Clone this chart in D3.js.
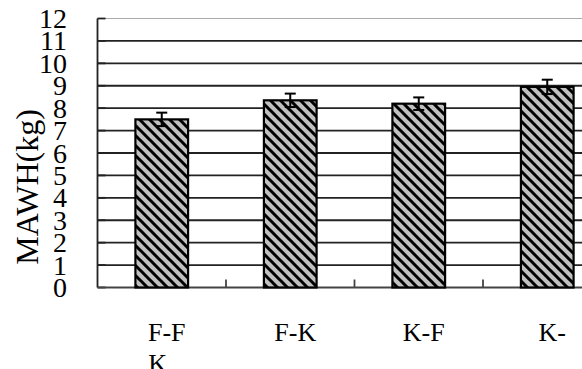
<!DOCTYPE html>
<html>
<head>
<meta charset="utf-8">
<script src="https://cdn.jsdelivr.net/npm/d3@7"></script>
<style>
  body { margin: 0; background: #fff; }
  text { font-family: "Liberation Serif", "Times New Roman", serif; fill: #000; }
</style>
</head>
<body>
<div class="chart"></div>
<script>
var categories = ['F-FK', 'F-K', 'K-F', 'K-'];
var labelLines = [['F-F', 'K'], ['F-K'], ['K-F'], ['K-']];
var means = [7.5, 8.35, 8.2, 8.95];
var errors = [0.3, 0.3, 0.28, 0.32];
var yTicks = [0, 1, 2, 3, 4, 5, 6, 7, 8, 9, 10, 11, 12];

var w = 582,
    h = 369;

var svg = d3.select('.chart').append('svg').attr('width', w).attr('height', h);

var pLeft = 97.5, pTop = 18.5, pBottom = 287.5, pRight = 611.5;

var x = d3.scaleBand().domain(categories).range([pLeft, pRight])
          .paddingInner(0.59).paddingOuter(0.295);
var step = x.step();
var y = d3.scaleLinear().domain([0, 12]).range([pBottom, pTop]);

// hatch pattern for the bars
var pat = svg.append('defs').append('pattern')
             .attr('id', 'hatch')
             .attr('patternUnits', 'userSpaceOnUse')
             .attr('width', 10).attr('height', 10);
pat.append('rect').attr('width', 10).attr('height', 10).attr('fill', '#c0c0c0');
pat.append('path')
   .attr('d', 'M-5,5 L5,15 M0,0 L10,10 M5,-5 L15,5')
   .attr('stroke', '#000').attr('stroke-width', 3);

// gridlines
svg.selectAll('.grid')
   .data(yTicks.filter(function (d) { return d > 0; }))
   .enter().append('line')
   .attr('x1', pLeft).attr('x2', w)
   .attr('y1', function (d) { return y(d); })
   .attr('y2', function (d) { return y(d); })
   .attr('stroke', function (d) { return d == 12 ? '#aaa' : '#222'; })
   .attr('stroke-width', function (d) { return d == 12 ? 1.2 : 1.8; });

// left tick marks
svg.selectAll('.ytick')
   .data(yTicks)
   .enter().append('line')
   .attr('x1', pLeft).attr('x2', pLeft + 8)
   .attr('y1', function (d) { return y(d); })
   .attr('y2', function (d) { return y(d); })
   .attr('stroke', '#222').attr('stroke-width', 1.8);

// axes lines
svg.append('line').attr('x1', pLeft).attr('x2', pLeft).attr('y1', pTop).attr('y2', pBottom)
   .attr('stroke', '#222').attr('stroke-width', 1.8);
svg.append('line').attr('x1', pLeft).attr('x2', w).attr('y1', pBottom).attr('y2', pBottom)
   .attr('stroke', '#444').attr('stroke-width', 1.8);

// category boundary ticks
svg.selectAll('.xtick')
   .data(categories.slice(1))
   .enter().append('line')
   .attr('x1', function (d) { return x(d) - step * 0.295; })
   .attr('x2', function (d) { return x(d) - step * 0.295; })
   .attr('y1', pBottom).attr('y2', pBottom - 8)
   .attr('stroke', '#444').attr('stroke-width', 1.8);

// bars
svg.selectAll('.bar')
   .data(means)
   .enter().append('rect')
   .attr('x', function (d, i) { return x(categories[i]); })
   .attr('y', function (d) { return y(d); })
   .attr('width', x.bandwidth())
   .attr('height', function (d) { return pBottom - y(d); })
   .attr('fill', 'url(#hatch)')
   .attr('stroke', '#000').attr('stroke-width', 2.2);

// error bars
var eb = svg.selectAll('.err')
            .data(means)
            .enter().append('g');
eb.append('line')
  .attr('x1', function (d, i) { return x(categories[i]) + x.bandwidth() / 2; })
  .attr('x2', function (d, i) { return x(categories[i]) + x.bandwidth() / 2; })
  .attr('y1', function (d, i) { return y(d - errors[i]); })
  .attr('y2', function (d, i) { return y(d + errors[i]); });
eb.append('line')
  .attr('x1', function (d, i) { return x(categories[i]) + x.bandwidth() / 2 - 5.5; })
  .attr('x2', function (d, i) { return x(categories[i]) + x.bandwidth() / 2 + 5.5; })
  .attr('y1', function (d, i) { return y(d + errors[i]); })
  .attr('y2', function (d, i) { return y(d + errors[i]); });
eb.append('line')
  .attr('x1', function (d, i) { return x(categories[i]) + x.bandwidth() / 2 - 5.5; })
  .attr('x2', function (d, i) { return x(categories[i]) + x.bandwidth() / 2 + 5.5; })
  .attr('y1', function (d, i) { return y(d - errors[i]); })
  .attr('y2', function (d, i) { return y(d - errors[i]); });
eb.selectAll('line').attr('stroke', '#000').attr('stroke-width', 2);

// y tick labels
svg.selectAll('.ylab')
   .data(yTicks)
   .enter().append('text')
   .attr('x', 67)
   .attr('y', function (d) { return y(d); })
   .attr('dy', '0.34em')
   .attr('text-anchor', 'end')
   .style('font-size', '28px')
   .text(function (d) { return d; });

// x labels
var xl = svg.selectAll('.xlab')
            .data(labelLines)
            .enter().append('text')
            .attr('text-anchor', 'middle')
            .style('font-size', '26px');
xl.selectAll('tspan')
  .data(function (d, i) { return d.map(function (s, j) { return { s: s, i: i, j: j }; }); })
  .enter().append('tspan')
  .attr('x', function (d) { return x(categories[d.i]) + x.bandwidth() / 2 + (d.j == 0 ? 5 : -4); })
  .attr('y', function (d) { return 341 + d.j * 31; })
  .text(function (d) { return d.s; });

// y title
svg.append('text')
   .attr('transform', 'translate(38,187) rotate(-90)')
   .attr('text-anchor', 'middle')
   .style('font-size', '32px')
   .text('MAWH(kg)');
</script>
</body>
</html>
